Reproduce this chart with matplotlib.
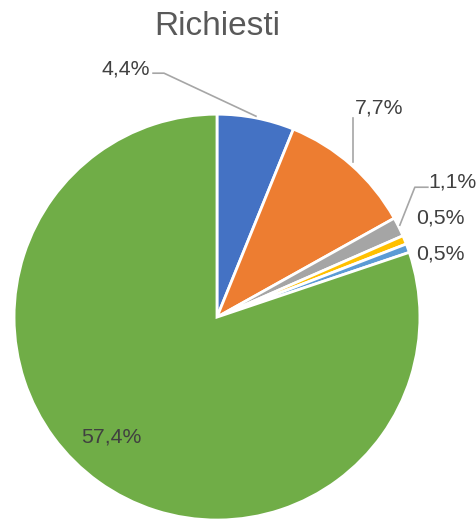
import numpy as np
import matplotlib
matplotlib.use("Agg")
import matplotlib.pyplot as plt

plt.rcParams['font.family'] = ['Liberation Sans', 'DejaVu Sans']

title = "Richiesti"
values = [4.4, 7.7, 1.1, 0.5, 0.5, 57.4]
labels = ["4,4%", "7,7%", "1,1%", "0,5%", "0,5%", "57,4%"]
colors = ['#4472C4', '#ED7D31', '#A5A5A5', '#FFC000', '#5B9BD5', '#70AD47']

# label positions (data units, pie radius = 1) and leader lines
label_pos = [(-0.45, 1.225), (0.80, 1.03), (1.16, 0.665), (1.10, 0.49), (1.10, 0.31), (-0.52, -0.59)]
leaders = [
    [(-0.315, 1.202), (-0.261, 1.202), (0.192, 0.99)],
    [(0.670, 0.98), (0.670, 0.764)],
    [(1.039, 0.640), (0.975, 0.640), (0.901, 0.453)],
]

dpi = 100
fig = plt.figure(figsize=(477/dpi, 519/dpi), dpi=dpi)
ax = fig.add_axes([0.0294, -0.002, 0.851, 0.782])
ax.pie(values, colors=colors, startangle=90, counterclock=False, radius=1,
       wedgeprops=dict(edgecolor='white', linewidth=2))
ax.set_xlim(-1, 1)
ax.set_ylim(-1, 1)
ax.set_aspect('equal')
ax.axis('off')

for txt, (x, y) in zip(labels, label_pos):
    ax.text(x, y, txt, ha='center', va='center', fontsize=15.3, color='#404040', clip_on=False)

for pts in leaders:
    xs, ys = zip(*pts)
    ax.plot(xs, ys, color='#A6A6A6', lw=1.2, clip_on=False)

fig.text(0.455, 0.948, title, ha='center', va='center', fontsize=24, color='#595959')

fig.savefig("out.png", dpi=dpi)
